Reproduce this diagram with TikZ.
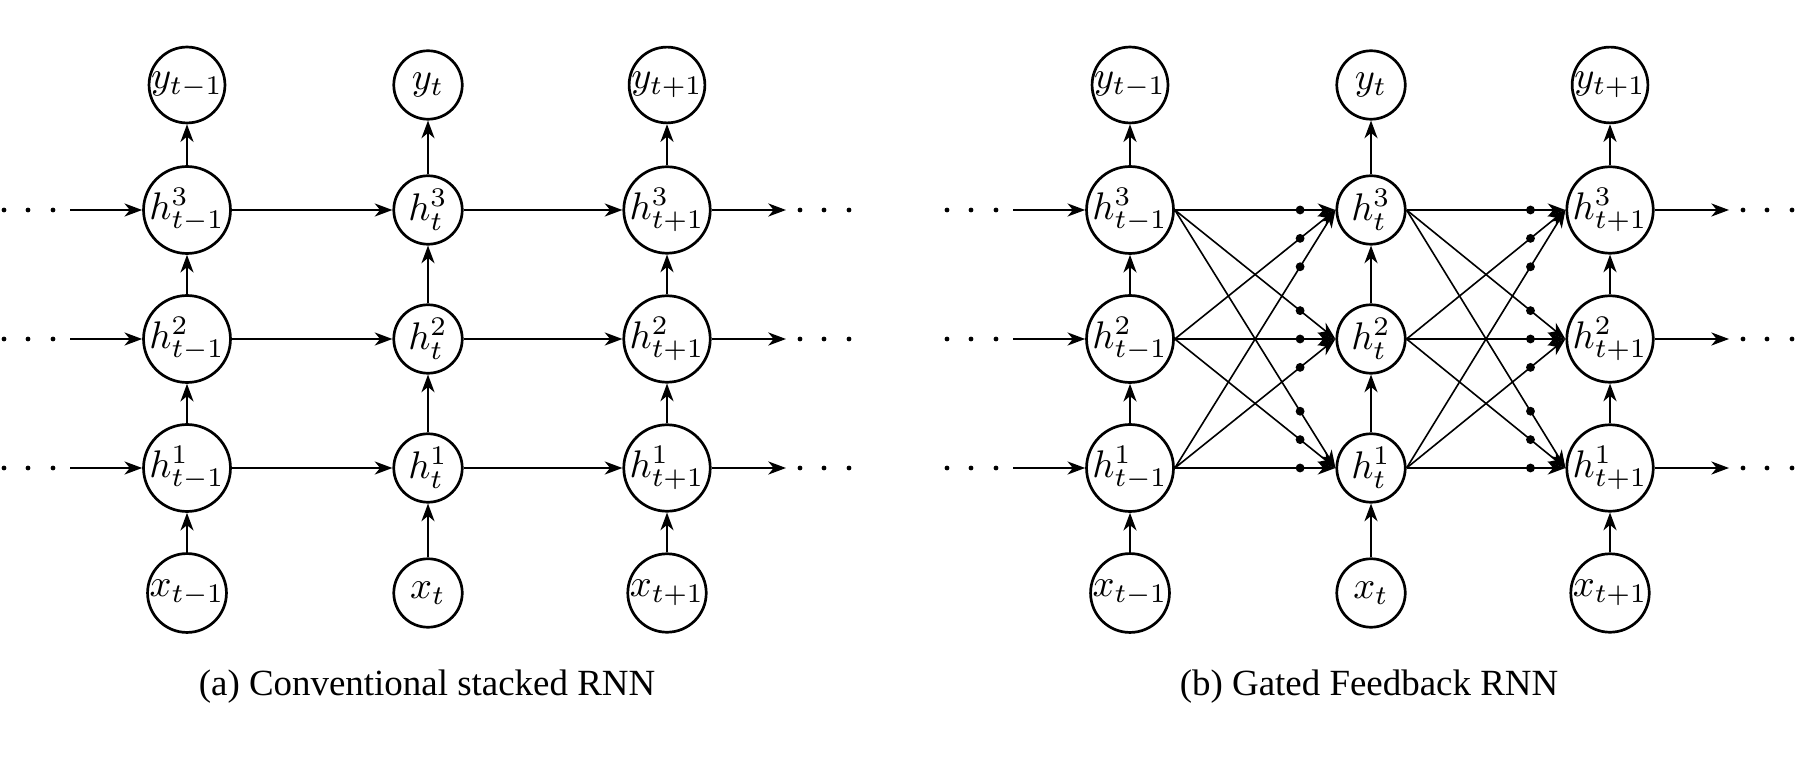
\documentclass[tikz,border=0pt]{standalone}
\usepackage[no-math]{fontspec}
\newfontfamily\capfont{Liberation Serif}
\usetikzlibrary{arrows.meta}
\begin{document}
\begin{tikzpicture}[x=0.26pt,y=-0.26pt,
  unit/.style={circle,draw,line width=0.7pt,minimum size=17.8pt,inner sep=0pt},
  tip/.style={-{Stealth[length=4.6pt,width=3.4pt,inset=1.4pt]}},
  conn/.style={line width=0.5pt,tip},
  cross/.style={line width=0.42pt,tip},
  gate/.style={circle,fill,inner sep=0pt,minimum size=2.3pt},
  ell/.style={circle,fill,inner sep=0pt,minimum size=1.25pt}]
\useasboundingbox (0,0) rectangle (1808,756);
\foreach \p/\o in {a/0,b/943}{
  \foreach \c/\cx/\s in {1/187/{t-1},2/428/t,3/667/{t+1}}{
    \node[unit] (\p y\c) at (\cx+\o,85) {$y_{\s}$};
    \node[unit] (\p h3\c) at (\cx+\o,210) {$h^3_{\s}$};
    \node[unit] (\p h2\c) at (\cx+\o,339) {$h^2_{\s}$};
    \node[unit] (\p h1\c) at (\cx+\o,468) {$h^1_{\s}$};
    \node[unit] (\p x\c) at (\cx+\o,593) {$x_{\s}$};
    \draw[conn] (\p x\c) -- (\p h1\c);
    \draw[conn] (\p h1\c) -- (\p h2\c);
    \draw[conn] (\p h2\c) -- (\p h3\c);
    \draw[conn] (\p h3\c) -- (\p y\c);
  }
  \foreach \r/\ry in {3/210,2/339,1/468}{
    \node[ell] (\p la\r) at (4+\o,\ry) {};
    \node[ell] (\p lb\r) at (28+\o,\ry) {};
    \node[ell] (\p lc\r) at (53+\o,\ry) {};
    \coordinate (\p in\r) at (70+\o,\ry);
    \draw[conn] (\p in\r) -- (\p h\r1.west);
    \coordinate (\p out\r) at (786+\o,\ry);
    \draw[conn] (\p h\r3.east) -- (\p out\r);
    \node[ell] (\p ra\r) at (800+\o,\ry) {};
    \node[ell] (\p rb\r) at (824+\o,\ry) {};
    \node[ell] (\p rc\r) at (849+\o,\ry) {};
  }
}
% (a) conventional stacked RNN
\foreach \r in {1,2,3}{
  \draw[conn] (ah\r1.east) -- (ah\r2.west);
  \draw[conn] (ah\r2.east) -- (ah\r3.west);
}
% (b) gated feedback RNN
\foreach \i/\j in {1/2,2/3}{
  \foreach \s in {1,2,3}{
    \foreach \t in {1,2,3}{
      \draw[cross] (bh\s\i.east) -- node[pos=0.78,gate] (g\s\t\i) {} (bh\t\j.west);
    }
  }
}
\node[font=\capfont\fontsize{9.6pt}{11pt}\selectfont,anchor=base] (capa) at (427,695) {(a) Conventional stacked RNN};
\node[font=\capfont\fontsize{9.6pt}{11pt}\selectfont,anchor=base] (capb) at (1369,695) {(b) Gated Feedback RNN};
\end{tikzpicture}
\end{document}
